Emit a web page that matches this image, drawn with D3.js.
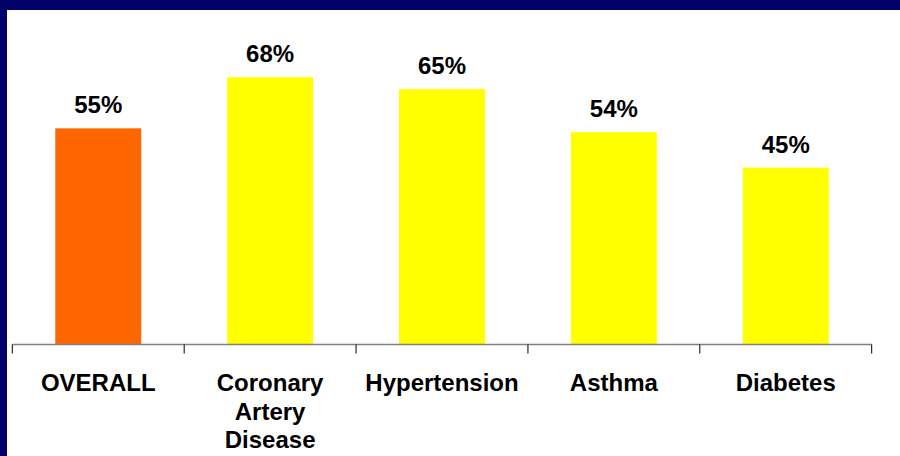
<!DOCTYPE html>
<html>
<head>
<meta charset="utf-8">
<script src="https://cdn.jsdelivr.net/npm/d3@7"></script>
<style>
  body { margin: 0; background: #000066; }
  svg { display: block; }
  .label { font-family: Arial, "Liberation Sans", sans-serif; font-weight: bold; font-size: 24px; fill: #000; }
</style>
</head>
<body>
<div id="vis"></div>
<script>
const FRAME_WIDTH = 900;
const FRAME_HEIGHT = 456;
const PANEL = {left: 7, top: 10};
const AXIS = {left: 12.3, right: 871.7, y: 344.5};

// chart data
const CATEGORIES = ["OVERALL", "Coronary Artery Disease", "Hypertension", "Asthma", "Diabetes"];
const CATEGORY_LINES = [["OVERALL"], ["Coronary", "Artery", "Disease"], ["Hypertension"], ["Asthma"], ["Diabetes"]];
const VALUES = [55, 68, 65, 54, 45];
const COLORS = ["#ff6600", "#ffff00", "#ffff00", "#ffff00", "#ffff00"];

const FRAME = d3.select("#vis")
                .append("svg")
                .attr("width", FRAME_WIDTH)
                .attr("height", FRAME_HEIGHT);

// navy frame + white panel
FRAME.append("rect")
     .attr("width", FRAME_WIDTH).attr("height", FRAME_HEIGHT)
     .attr("fill", "#000066");
FRAME.append("rect")
     .attr("x", PANEL.left).attr("y", PANEL.top)
     .attr("width", FRAME_WIDTH - PANEL.left).attr("height", FRAME_HEIGHT - PANEL.top)
     .attr("fill", "#ffffff");

const X_SCALE = d3.scaleBand()
                  .domain(CATEGORIES)
                  .range([AXIS.left, AXIS.right])
                  .paddingInner(0.5)
                  .paddingOuter(0.25);

const Y_SCALE = d3.scaleLinear()
                  .domain([0, 80])
                  .range([AXIS.y, AXIS.y - 314.4]);

const data = CATEGORIES.map((c, i) => ({category: c, value: VALUES[i], color: COLORS[i], lines: CATEGORY_LINES[i]}));

// bars
FRAME.selectAll(".bar")
     .data(data)
     .enter()
     .append("rect")
       .attr("class", "bar")
       .attr("x", d => X_SCALE(d.category))
       .attr("y", d => Y_SCALE(d.value))
       .attr("width", X_SCALE.bandwidth())
       .attr("height", d => AXIS.y - Y_SCALE(d.value))
       .attr("fill", d => d.color);

// value labels
FRAME.selectAll(".val")
     .data(data)
     .enter()
     .append("text")
       .attr("class", "label")
       .attr("x", d => X_SCALE(d.category) + X_SCALE.bandwidth() / 2)
       .attr("y", d => Y_SCALE(d.value) - 15)
       .attr("text-anchor", "middle")
       .text(d => d.value + "%");

// axis line
FRAME.append("line")
     .attr("x1", AXIS.left).attr("x2", AXIS.right)
     .attr("y1", AXIS.y).attr("y2", AXIS.y)
     .attr("stroke", "#808080")
     .attr("stroke-width", 1.5);

// tick marks between bands
const step = X_SCALE.step();
const tickXs = d3.range(CATEGORIES.length + 1).map(i => AXIS.left + i * step);
FRAME.selectAll(".tick")
     .data(tickXs)
     .enter()
     .append("line")
       .attr("x1", d => d).attr("x2", d => d)
       .attr("y1", AXIS.y).attr("y2", AXIS.y + 9)
       .attr("stroke", "#000")
       .attr("stroke-width", 1);

// category labels
const catText = FRAME.selectAll(".cat")
     .data(data)
     .enter()
     .append("text")
       .attr("class", "label")
       .attr("text-anchor", "middle")
       .attr("y", 391);

catText.selectAll("tspan")
       .data(d => d.lines.map(l => ({l: l, x: X_SCALE(d.category) + X_SCALE.bandwidth() / 2})))
       .enter()
       .append("tspan")
         .attr("x", d => d.x)
         .attr("dy", (d, i) => i === 0 ? 0 : 28.5)
         .text(d => d.l);
</script>
</body>
</html>
